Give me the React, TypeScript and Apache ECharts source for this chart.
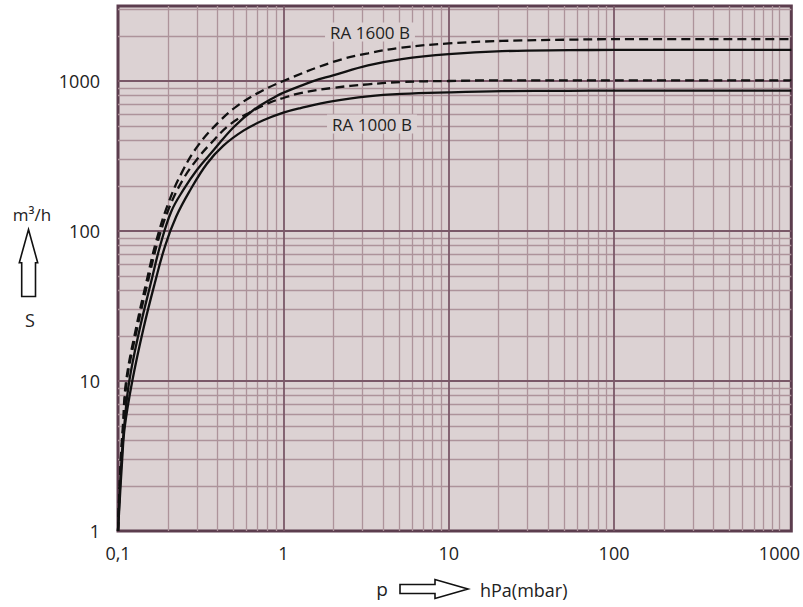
import React, { useEffect, useRef } from 'react';
import * as echarts from 'echarts';

// Axis ranges (log scales)
const xRange = [0.1, 1180];
const yRange = [1, 3162];

// Grid lines (log paper)
const xDecadeLines = [1, 10, 100];
const xMinorLines = [
  0.2, 0.3, 0.4, 0.5, 0.6, 0.7, 0.8, 0.9,
  2, 3, 4, 5, 6, 7, 8, 9,
  20, 30, 40, 50, 60, 70, 80, 90,
  200, 300, 400, 500, 600, 700, 800, 900, 1000,
];
const yDecadeLines = [10, 100, 1000];
const yMinorLines = [
  2, 3, 4, 5, 6, 7, 8, 9,
  20, 30, 40, 50, 60, 70, 80, 90,
  200, 300, 400, 500, 600, 700, 800, 900,
  2000, 3000,
];

// Pumping speed curves S [m3/h] vs p [hPa]
const ra1600Dashed: [number, number][] = [
  [0.1, 1], [0.104, 3], [0.107, 5], [0.112, 10], [0.128, 22], [0.148, 45], [0.17, 85],
  [0.2, 150], [0.243, 245], [0.307, 375], [0.415, 545], [0.524, 680], [0.7, 830],
  [1, 1000], [2, 1340], [3.25, 1530], [5.2, 1670], [10, 1780], [21, 1850], [53, 1885],
  [100, 1900], [1180, 1900],
];
const ra1600Solid: [number, number][] = [
  [0.1, 1], [0.105, 3], [0.109, 5], [0.117, 10], [0.135, 22], [0.158, 45], [0.18, 80],
  [0.21, 135], [0.25, 190], [0.3, 255], [0.378, 345], [0.5, 492], [0.66, 641],
  [0.916, 798], [1, 835], [1.5, 995], [2, 1090], [3.25, 1270], [5.2, 1400], [10, 1510],
  [21, 1580], [53, 1605], [100, 1610], [1180, 1610],
];
const ra1000Dashed: [number, number][] = [
  [0.1, 1], [0.104, 3], [0.108, 5], [0.113, 10], [0.13, 22], [0.151, 45], [0.174, 85],
  [0.205, 145], [0.25, 225], [0.3, 300], [0.361, 380], [0.477, 515], [0.63, 620],
  [0.833, 720], [1, 770], [1.27, 830], [2, 900], [3.25, 950], [5.2, 985], [10, 1000],
  [20, 1010], [100, 1010], [1180, 1010],
];
const ra1000Solid: [number, number][] = [
  [0.1, 1], [0.106, 3], [0.11, 5], [0.122, 10], [0.142, 22], [0.167, 45], [0.193, 80],
  [0.225, 125], [0.273, 187], [0.345, 281], [0.434, 371], [0.574, 467], [0.75, 545],
  [1, 615], [1.27, 660], [2, 735], [3.25, 790], [5.2, 820], [10, 840], [21, 855],
  [53, 860], [100, 862], [1180, 862],
];

const curveLabels = ['RA 1600 B', 'RA 1000 B'];

const FONT = '"Open Sans", "Noto Sans", sans-serif';
const BG = '#dcd2d3';
const MINOR = '#ad939a';
const MAJOR = '#7a5868';
const BORDER = '#5c3d4e';

function decadeLabel(v: number): string {
  const l = Math.log10(v);
  const r = Math.round(l);
  if (Math.abs(l - r) > 1e-6) return '';
  if (r < 0) return '0,' + '0'.repeat(-r - 1) + '1';
  return String(Math.round(Math.pow(10, r)));
}

export default function App() {
  const ref = useRef<HTMLDivElement>(null);

  useEffect(() => {
    if (!ref.current) return;
    const chart = echarts.init(ref.current, undefined, { renderer: 'svg' });

    const gridLineData: any[] = [];
    xMinorLines.forEach((v) => gridLineData.push({ xAxis: v, lineStyle: { color: MINOR, width: 1.3, type: 'solid' } }));
    yMinorLines.forEach((v) => gridLineData.push({ yAxis: v, lineStyle: { color: MINOR, width: 1.3, type: 'solid' } }));
    xDecadeLines.forEach((v) => gridLineData.push({ xAxis: v, lineStyle: { color: MAJOR, width: 1.8, type: 'solid' } }));
    yDecadeLines.forEach((v) => gridLineData.push({ yAxis: v, lineStyle: { color: MAJOR, width: 1.8, type: 'solid' } }));

    const curve = (name: string, data: [number, number][], dashed: boolean) => ({
      name,
      type: 'line',
      data,
      z: 10,
      smooth: 0.4,
      showSymbol: false,
      symbol: 'none',
      silent: true,
      lineStyle: {
        color: '#111',
        width: 2.3,
        type: dashed ? [9, 5] : 'solid',
      },
    });

    chart.setOption({
      animation: false,
      grid: {
        left: 118,
        right: 11,
        top: 6,
        bottom: 76,
        show: true,
        backgroundColor: BG,
        borderColor: BORDER,
        borderWidth: 3,
      },
      xAxis: {
        type: 'log',
        logBase: 10,
        min: xRange[0],
        max: xRange[1],
        axisLine: { show: false },
        axisTick: { show: false },
        splitLine: { show: false },
        axisLabel: {
          margin: 13,
          fontSize: 18,
          color: '#222',
          fontFamily: FONT,
          formatter: decadeLabel,
          showMaxLabel: false,
        },
      },
      yAxis: {
        type: 'log',
        logBase: 10,
        min: yRange[0],
        max: yRange[1],
        axisLine: { show: false },
        axisTick: { show: false },
        splitLine: { show: false },
        axisLabel: {
          margin: 18,
          fontSize: 18,
          color: '#222',
          fontFamily: FONT,
          formatter: decadeLabel,
          showMaxLabel: false,
        },
      },
      series: [
        {
          name: 'grid',
          type: 'line',
          data: [[1, 1]],
          z: 1,
          showSymbol: false,
          symbol: 'none',
          silent: true,
          lineStyle: { width: 0, opacity: 0 },
          markLine: {
            z: 1,
            silent: true,
            symbol: ['none', 'none'],
            label: { show: false },
            emphasis: { disabled: true },
            animation: false,
            data: gridLineData,
          },
        },
        curve('RA 1600 B (dashed)', ra1600Dashed, true),
        curve('RA 1600 B', ra1600Solid, false),
        curve('RA 1000 B (dashed)', ra1000Dashed, true),
        curve('RA 1000 B', ra1000Solid, false),
      ],
      graphic: [
        {
          type: 'text',
          z: 20,
          x: 370,
          y: 32,
          style: {
            text: curveLabels[0],
            fontSize: 17,
            fontFamily: FONT,
            fill: '#222',
            align: 'center',
            verticalAlign: 'middle',
            backgroundColor: BG,
            padding: [1, 5],
          },
        },
        {
          type: 'text',
          z: 20,
          x: 372,
          y: 124,
          style: {
            text: curveLabels[1],
            fontSize: 17,
            fontFamily: FONT,
            fill: '#222',
            align: 'center',
            verticalAlign: 'middle',
            backgroundColor: BG,
            padding: [1, 5],
          },
        },
        {
          type: 'text',
          x: 32,
          y: 214,
          style: {
            text: 'm³/h',
            fontSize: 17,
            fontFamily: FONT,
            fill: '#222',
            align: 'center',
            verticalAlign: 'middle',
          },
        },
        {
          type: 'polygon',
          shape: {
            points: [
              [28.5, 229.5], [37.7, 262.7], [35.5, 262.7], [35.5, 296.5],
              [21.7, 296.5], [21.7, 262.7], [19.3, 262.7],
            ],
          },
          style: { fill: '#fff', stroke: '#111', lineWidth: 1.6 },
        },
        {
          type: 'text',
          x: 30,
          y: 320,
          style: {
            text: 'S',
            fontSize: 18,
            fontFamily: FONT,
            fill: '#222',
            align: 'center',
            verticalAlign: 'middle',
          },
        },
        {
          type: 'text',
          x: 382,
          y: 589,
          style: {
            text: 'p',
            fontSize: 19,
            fontFamily: FONT,
            fill: '#222',
            align: 'center',
            verticalAlign: 'middle',
          },
        },
        {
          type: 'polygon',
          shape: {
            points: [
              [400, 584.5], [435, 584.5], [435, 579.5], [468, 589],
              [435, 598.5], [435, 593.5], [400, 593.5],
            ],
          },
          style: { fill: '#fff', stroke: '#111', lineWidth: 1.6 },
        },
        {
          type: 'text',
          x: 480,
          y: 590,
          style: {
            text: 'hPa(mbar)',
            fontSize: 18,
            fontFamily: FONT,
            fill: '#222',
            align: 'left',
            verticalAlign: 'middle',
          },
        },
      ],
    });

    return () => chart.dispose();
  }, []);

  return (
    <div
      ref={ref}
      style={{ position: 'fixed', left: 0, top: 0, width: 803, height: 607, background: '#fff' }}
    />
  );
}
